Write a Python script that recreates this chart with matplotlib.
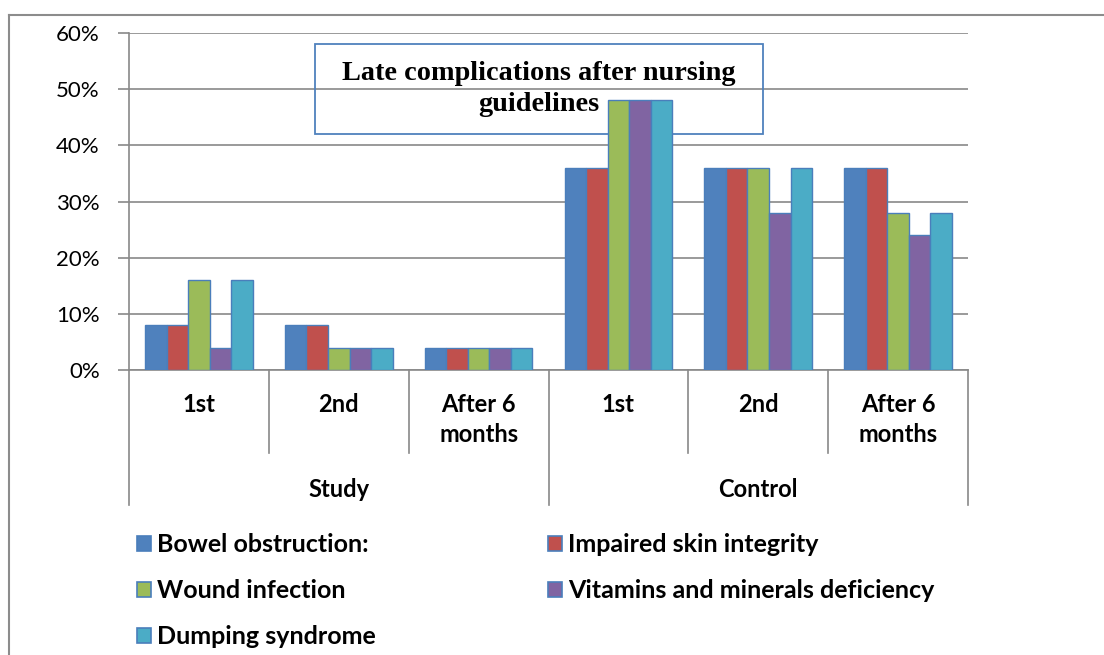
import numpy as np
import matplotlib.pyplot as plt
from matplotlib.patches import Rectangle, Patch

# data
series = ['Bowel obstruction:', 'Impaired skin integrity', 'Wound infection',
          'Vitamins and minerals deficiency', 'Dumping syndrome']
periods = ['1st', '2nd', 'After 6\nmonths', '1st', '2nd', 'After 6\nmonths']
groups = ['Study', 'Control']

bowel = [8, 8, 4, 36, 36, 36]
skin = [8, 8, 4, 36, 36, 36]
wound = [16, 4, 4, 48, 36, 28]
vitamins = [4, 4, 4, 48, 28, 24]
dumping = [16, 4, 4, 48, 36, 28]
values = [bowel, skin, wound, vitamins, dumping]

colors = ['#4F81BD', '#C0504D', '#9BBB59', '#8064A2', '#4BACC6']
edge = '#4A7EBB'
grid_c = '#898989'

W, H = 1104, 655
fig = plt.figure(figsize=(W / 100, H / 100), dpi=100)

# plot area in pixels
x0, x1, y0, y1 = 129, 968, 33, 370
ax = fig.add_axes([x0 / W, 1 - y1 / H, (x1 - x0) / W, (y1 - y0) / H])


def ay(py):
    # pixel row -> axes fraction
    return (y1 - py) / (y1 - y0)


def ax_x(px):
    return (px - x0) / (x1 - x0)


n = len(periods)
x = np.arange(n) + 0.5
bw = 0.154
for j, (vals, c) in enumerate(zip(values, colors)):
    ax.bar(x + (j - 2) * bw, vals, bw, color=c, edgecolor=edge, linewidth=1.0,
           zorder=3, label=series[j])

ax.set_xlim(0, n)
ax.set_ylim(0, 60)
ax.set_yticks(range(0, 61, 10))
ax.set_yticklabels([f'{v}%' for v in range(0, 61, 10)], family='Lato', fontsize=16)
ax.tick_params(axis='y', length=8, width=1.2, color=grid_c, pad=13)
ax.set_xticks([])
ax.yaxis.grid(True, color=grid_c, linewidth=1.2, zorder=0)
ax.set_axisbelow(True)
for s in ['top', 'right']:
    ax.spines[s].set_visible(False)
for s in ['left', 'bottom']:
    ax.spines[s].set_color(grid_c)
    ax.spines[s].set_linewidth(1.2)

# category axis: two tiers of labels with separators
trans = ax.get_xaxis_transform()
for i in range(n + 1):
    low = ay(505) if i % 3 == 0 else ay(453)
    ax.plot([i, i], [0, low], color=grid_c, lw=1.2, transform=trans, clip_on=False)
for i, lab in enumerate(periods):
    ax.text(i + 0.5, ay(393), lab, transform=trans, ha='center', va='top',
            family='Lato', fontweight='bold', fontsize=17, linespacing=1.35)
for g, lab in enumerate(groups):
    ax.text(g * 3 + 1.5, ay(489), lab, transform=trans, ha='center', va='center',
            family='Lato', fontweight='bold', fontsize=17)

# title box
bx0, bx1, by0, by1 = 315, 763, 44, 134
ax.add_patch(Rectangle((ax_x(bx0), ay(by1)), ax_x(bx1) - ax_x(bx0), ay(by0) - ay(by1),
                       transform=ax.transAxes, fill=False, edgecolor='#4F81BD',
                       linewidth=1.3, zorder=2, clip_on=False))
ax.text(ax_x(539), ay(89), 'Late complications after nursing\nguidelines',
        transform=ax.transAxes, ha='center', va='center', family='Liberation Serif',
        fontweight='bold', fontsize=20.3, linespacing=1.3, zorder=5)

# legend, two columns
handles = [Patch(facecolor=c, edgecolor=edge, linewidth=1.2) for c in colors]
kw = dict(frameon=False, prop={'family': 'Lato', 'weight': 'bold', 'size': 18},
          handlelength=0.55, handleheight=0.55, handletextpad=0.25, labelspacing=0.92,
          borderaxespad=0, borderpad=0)
fig.legend([handles[0], handles[2], handles[4]], [series[0], series[2], series[4]],
           loc='upper left', bbox_to_anchor=(137 / W, 1 - 533 / H), **kw)
fig.legend([handles[1], handles[3]], [series[1], series[3]],
           loc='upper left', bbox_to_anchor=(548 / W, 1 - 533 / H), **kw)

# outer frame
fig.add_artist(plt.Line2D([9 / W, 1], [1 - 15 / H, 1 - 15 / H], color='#8C8C8C', lw=1.5))
fig.add_artist(plt.Line2D([9 / W, 9 / W], [0, 1 - 15 / H], color='#8C8C8C', lw=1.5))

fig.savefig('out.png', dpi=100)
